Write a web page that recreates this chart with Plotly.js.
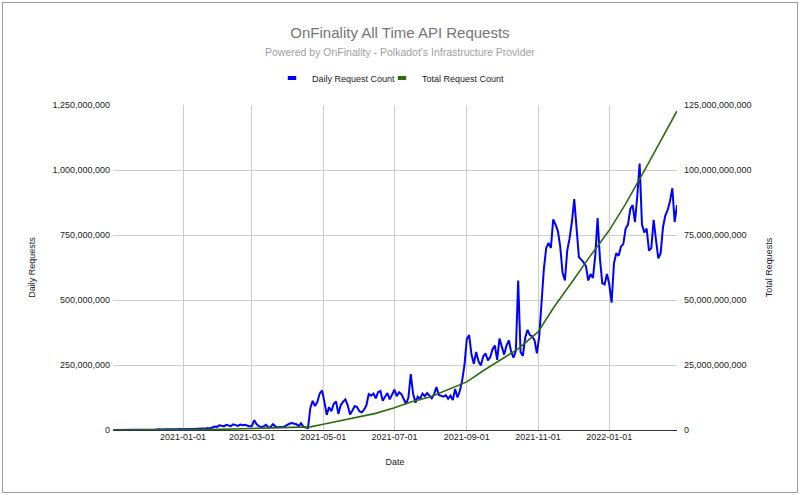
<!DOCTYPE html>
<html>
<head>
<meta charset="utf-8">
<script src="https://cdn.plot.ly/plotly-3.0.1.min.js"></script>
<style>
  html, body { margin: 0; padding: 0; background: #fff; }
  #wrap { position: relative; width: 800px; height: 495px; }
  #chart { position: absolute; left: 0; top: 0; width: 800px; height: 495px; }
  #frame { position: absolute; left: 2px; top: 2px; width: 794px; height: 489px; border: 1px solid #9e9e9e; pointer-events: none; }
</style>
</head>
<body>
<div id="wrap"><div id="chart"></div><div id="frame"></div></div>
<script>
// ---- Data ----
const titleText = 'OnFinality All Time API Requests';
const subtitleText = "Powered by OnFinality - Polkadot's Infrastructure Provider";
const seriesNames = ['Daily Request Count', 'Total Request Count'];

// Daily request count, in millions, one value every 2 days starting 2020-11-03
const dailyStart = '2020-11-03';
const dailyStepDays = 2;
const dailyMillions = [
  0,0,0,0,0,0,0,0,0,0,
  0,0,0,0,1,2,1,2,2,3,
  2,2,3,2,3,3,2,3,4,3,
  3,4,3,4,4,5,4,5,6,5,
  8,6,10,13,12,18,16,14,20,17,
  15,22,19,16,21,18,20,17,14,16,
  38,22,15,12,14,20,10,12,22,14,
  10,12,11,14,20,24,27,25,22,15,
  26,12,9,8,85,112,92,108,140,152,
  110,58,88,72,100,110,62,95,108,118,
  95,60,75,92,88,72,68,78,95,138,
  132,140,122,145,150,112,128,142,118,140,
  155,130,145,138,118,100,125,215,140,105,
  128,120,140,130,142,132,122,138,165,135,
  130,128,134,120,132,115,158,125,150,190,
  250,350,365,290,255,300,265,248,282,295,
  268,280,310,325,270,352,320,290,325,345,
  300,278,305,575,300,285,355,385,365,360,
  345,295,360,510,620,700,720,700,810,790,
  765,705,605,575,690,737,800,888,760,665,
  655,645,630,575,600,585,670,815,660,565,
  560,600,560,490,640,680,670,705,715,775,
  790,850,865,800,900,1025,790,760,775,690,
  700,808,731,660,680,780,825,846,880,930,
  800,865
];

// Cumulative total request count, in billions
const totalDates = [
  '2020-11-02','2020-12-01','2021-01-01','2021-02-01','2021-03-01','2021-04-01',
  '2021-04-20','2021-05-01','2021-05-15','2021-06-01','2021-06-15','2021-07-01',
  '2021-07-15','2021-08-01','2021-08-15','2021-09-01','2021-09-15','2021-10-01',
  '2021-10-15','2021-11-01','2021-11-15','2021-12-01','2021-12-15','2022-01-01',
  '2022-01-15','2022-02-01','2022-02-15','2022-02-28'
];
const totalBillions = [
  0, 0.01, 0.08, 0.25, 0.6, 0.9,
  1.2, 2.2, 3.5, 5.1, 6.4, 8.6,
  10.8, 12.8, 15.3, 18.5, 22.8, 27.3,
  31.2, 37.7, 47.5, 57.5, 66.5, 76.8,
  87.0, 100.5, 111.8, 122.7
];

const xTickDates = ['2021-01-01','2021-03-01','2021-05-01','2021-07-01','2021-09-01','2021-11-01','2022-01-01'];

// ---- Build traces ----
function addDays(iso, n) {
  const d = new Date(iso + 'T00:00:00Z');
  d.setUTCDate(d.getUTCDate() + n);
  return d.toISOString().slice(0, 10);
}
const dailyDates = dailyMillions.map((_, i) => addDays(dailyStart, i * dailyStepDays));
const dailyValues = dailyMillions.map(v => v * 1e6);
const totalValues = totalBillions.map(v => v * 1e9);

const BLUE = '#0000ff';
const GREEN = '#2f6b12';
const FONT = '"Liberation Sans", Arial, sans-serif';

const traces = [
  { x: dailyDates, y: dailyValues, type: 'scatter', mode: 'lines', name: seriesNames[0],
    line: { color: BLUE, width: 2 }, yaxis: 'y', showlegend: false },
  { x: totalDates, y: totalValues, type: 'scatter', mode: 'lines', name: seriesNames[1],
    line: { color: GREEN, width: 1.6 }, yaxis: 'y2', showlegend: false },
  // legend entries (no data)
  { x: [null], y: [null], type: 'scatter', mode: 'markers', name: seriesNames[0], legend: 'legend',
    marker: { symbol: 'line-ew', size: 6, color: BLUE, line: { color: BLUE, width: 4 } } },
  { x: [null], y: [null], type: 'scatter', mode: 'markers', name: seriesNames[1], legend: 'legend2',
    marker: { symbol: 'line-ew', size: 6, color: GREEN, line: { color: GREEN, width: 4 } } }
];

const legendCommon = {
  orientation: 'h', xref: 'container', xanchor: 'left',
  yref: 'container', y: 1 - 78 / 495, yanchor: 'middle',
  bgcolor: 'rgba(0,0,0,0)', borderwidth: 0,
  font: { family: FONT, size: 9, color: '#222' }, itemwidth: 30
};

const layout = {
  width: 800, height: 495,
  margin: { l: 113, r: 123, t: 105, b: 65 },
  paper_bgcolor: '#ffffff', plot_bgcolor: '#ffffff',
  font: { family: FONT, size: 9, color: '#444' },
  title: {
    text: titleText, xref: 'container', x: 0.5, yref: 'container', y: 1 - 33 / 495, yanchor: 'middle',
    font: { family: FONT, size: 15, color: '#757575' }
  },
  annotations: [
    { text: subtitleText, xref: 'paper', x: (400 - 113) / 564, xanchor: 'center',
      yref: 'paper', y: (430 - 52) / 325, yanchor: 'middle', showarrow: false,
      font: { family: FONT, size: 10.5, color: '#9e9e9e' } }
  ],
  showlegend: true,
  legend: Object.assign({}, legendCommon, { x: 272 / 800 }),
  legend2: Object.assign({}, legendCommon, { x: 382 / 800 }),
  xaxis: {
    type: 'date', range: ['2020-11-02', '2022-02-28'],
    tickvals: xTickDates, tickformat: '%Y-%m-%d',
    showgrid: true, gridcolor: '#cccccc', gridwidth: 1,
    zeroline: false, showline: false, ticks: '',
    tickfont: { family: FONT, size: 9, color: '#222' },
    title: { text: 'Date', font: { family: FONT, size: 9, color: '#222' }, standoff: 17 }
  },
  yaxis: {
    range: [0, 1.25e9], dtick: 2.5e8, tick0: 0, tickformat: ',d',
    showgrid: true, gridcolor: '#cccccc', gridwidth: 1,
    zeroline: true, zerolinecolor: '#333333', zerolinewidth: 1,
    showline: false, ticks: '', ticklabelstandoff: 2,
    tickfont: { family: FONT, size: 9, color: '#222' },
    title: { text: 'Daily Requests', font: { family: FONT, size: 9, color: '#222' }, standoff: 15 }
  },
  yaxis2: {
    overlaying: 'y', side: 'right',
    range: [0, 1.25e11], dtick: 2.5e10, tick0: 0, tickformat: ',d',
    showgrid: false, zeroline: false, showline: false, ticks: '', ticklabelstandoff: 6,
    tickfont: { family: FONT, size: 9, color: '#222' },
    title: { text: 'Total Requests', font: { family: FONT, size: 9, color: '#222' }, standoff: 15 }
  }
};

Plotly.newPlot('chart', traces, layout, { staticPlot: true, displayModeBar: false });
</script>
</body>
</html>
